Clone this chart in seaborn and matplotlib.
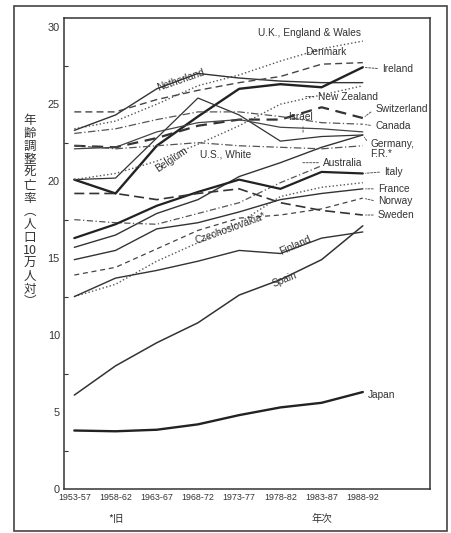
import numpy as np
import pandas as pd
import matplotlib
matplotlib.use("Agg")
import matplotlib.pyplot as plt
from matplotlib.patches import Rectangle
import seaborn as sns

periods = ["1953-57", "1958-62", "1963-67", "1968-72", "1973-77", "1978-82", "1983-87", "1988-92"]

uk          = [23.4, 23.9, 25.0, 26.2, 26.9, 27.8, 28.6, 29.1]
netherland  = [23.3, 24.3, 26.0, 27.0, 26.7, 26.5, 26.4, 26.4]
denmark     = [24.5, 24.5, 25.3, 25.9, 26.4, 26.8, 27.6, 27.7]
ireland     = [20.1, 19.2, 22.3, 24.2, 26.0, 26.3, 26.1, 27.4]
belgium     = [20.1, 20.2, 22.8, 25.4, 24.3, 22.6, 22.9, 23.0]
new_zealand = [20.1, 20.5, 21.3, 22.4, 23.6, 25.0, 25.6, 26.2]
switzerland = [22.3, 22.2, 22.8, 23.6, 24.0, 24.0, 24.8, 24.1]
israel      = [22.1, 22.2, 23.2, 23.8, 24.0, 23.5, 23.4, 23.2]
canada      = [23.1, 23.4, 24.0, 24.5, 24.5, 24.2, 23.8, 23.7]
germany     = [15.7, 16.5, 17.9, 18.8, 20.3, 21.2, 22.2, 23.0]
us_white    = [22.3, 22.1, 22.3, 22.5, 22.3, 22.2, 22.1, 22.3]
australia   = [17.5, 17.3, 17.2, 17.9, 18.6, 19.9, 21.0, np.nan]
italy       = [16.3, 17.2, 18.4, 19.3, 20.1, 19.5, 20.6, 20.5]
france      = [14.9, 15.5, 16.9, 17.3, 18.0, 18.8, 19.2, 19.5]
norway      = [13.9, 14.4, 15.6, 16.8, 17.6, 17.8, 18.2, 18.9]
sweden      = [19.2, 19.2, 18.8, 19.2, 19.5, 18.6, 18.1, 17.8]
czech       = [12.5, 13.3, 14.8, 16.0, 17.3, 19.0, 19.6, 19.9]
finland     = [12.5, 13.7, 14.2, 14.8, 15.5, 15.3, 16.3, 16.7]
spain       = [6.1, 8.0, 9.5, 10.8, 12.6, 13.6, 14.9, 17.1]
japan       = [3.8, 3.75, 3.85, 4.2, 4.8, 5.3, 5.6, 6.3]

series = [
    ("U.K.", uk, ":", 1.0, "#555555"),
    ("Netherland", netherland, "-", 1.0, "#333333"),
    ("Denmark", denmark, (0, (5, 3)), 1.0, "#444444"),
    ("Ireland", ireland, "-", 1.7, "#222222"),
    ("Belgium", belgium, "-", 0.9, "#333333"),
    ("New Zealand", new_zealand, ":", 1.0, "#555555"),
    ("Switzerland", switzerland, (0, (5, 3)), 1.6, "#333333"),
    ("Israel", israel, "-", 0.9, "#444444"),
    ("Canada", canada, (0, (6, 2, 1, 2)), 0.9, "#555555"),
    ("Germany", germany, "-", 1.0, "#333333"),
    ("U.S. White", us_white, (0, (6, 2, 1, 2)), 0.9, "#555555"),
    ("Australia", australia, (0, (5, 2, 1, 2)), 0.9, "#555555"),
    ("Italy", italy, "-", 1.6, "#222222"),
    ("France", france, "-", 1.0, "#333333"),
    ("Norway", norway, (0, (4, 3)), 0.9, "#444444"),
    ("Sweden", sweden, (0, (6, 3)), 1.2, "#333333"),
    ("Czechoslovakia", czech, ":", 1.0, "#555555"),
    ("Finland", finland, "-", 1.0, "#333333"),
    ("Spain", spain, "-", 1.1, "#333333"),
    ("Japan", japan, "-", 1.7, "#222222"),
]

sns.set_theme(style="white")
plt.rcParams["font.family"] = ["Liberation Sans", "Noto Sans CJK JP", "DejaVu Sans"]

fig = plt.figure(figsize=(4.51, 5.33), dpi=100)
ax = fig.add_axes([64 / 451, 1 - 489 / 533, (430 - 64) / 451, (489 - 18) / 533])

xs = np.arange(len(periods))
for name, vals, ls, lw, col in series:
    df = pd.DataFrame({"x": xs, "y": vals}).dropna()
    sns.lineplot(data=df, x="x", y="y", ax=ax, color=col, linestyle=ls,
                 linewidth=lw, errorbar=None, estimator=None)

ax.set_xlim(-0.25, 8.63)
ax.set_ylim(0, 30.6)
ax.set_xticks(xs)
ax.set_xticklabels(periods, fontsize=6.4, color="#333333")
ax.set_yticks([0, 5, 10, 15, 20, 25, 30])
ax.set_yticks(np.arange(2.5, 30, 5), minor=True)
ax.tick_params(axis="both", which="both", direction="in", color="#333333")
ax.tick_params(axis="both", which="major", length=4, width=0.9, pad=3)
ax.tick_params(axis="y", which="minor", length=3, width=0.8, left=True)
ax.tick_params(axis="y", labelsize=7.8, labelcolor="#333333")
ax.set_xlabel("")
ax.set_ylabel("")
for sp in ax.spines.values():
    sp.set_color("#333333")
    sp.set_linewidth(1.1)

tc = "#333333"
fs = 7.3
def lab(txt, x, y, ha="left", rot=0, **kw):
    ax.text(x, y, txt, ha=ha, va="center", fontsize=fs, color=tc, rotation=rot,
            rotation_mode="anchor", **kw)

lab("U.K., England & Wales", 4.46, 29.6)
lab("Netherland", 2.57, 26.6, ha="center", rot=19)
lab("Denmark", 6.09, 28.4, ha="center")
lab("Ireland", 7.47, 27.3)
lab("New Zealand", 5.92, 25.5)
lab("Switzerland", 7.3, 24.7)
lab("Israel", 5.48, 24.2, ha="center")
lab("Canada", 7.3, 23.6)
lab("Germany,\nF.R.*", 7.18, 22.1, linespacing=0.95)
lab("U.S., White", 3.05, 21.7)
lab("Belgium", 2.37, 21.4, ha="center", rot=34)
lab("Australia", 6.04, 21.2)
lab("Italy", 7.52, 20.6)
lab("France", 7.37, 19.5)
lab("Norway", 7.37, 18.7)
lab("Sweden", 7.37, 17.8)
lab("Czechoslovakia*", 3.78, 16.9, ha="center", rot=20)
lab("Finland", 5.36, 15.8, ha="center", rot=24)
lab("Spain", 5.1, 13.6, ha="center", rot=22)
lab("Japan", 7.13, 6.1)

# leader lines from line ends to labels
leaders = [(7.0, 27.4, 7.42, 27.3), (7.0, 24.1, 7.25, 24.6), (7.0, 23.7, 7.25, 23.6),
           (7.0, 23.0, 7.13, 22.5), (7.0, 20.5, 7.47, 20.6), (7.0, 19.5, 7.32, 19.5),
           (7.0, 18.9, 7.32, 18.7), (7.0, 17.8, 7.32, 17.8), (5.55, 25.5, 5.88, 25.5),
           (5.45, 21.2, 5.99, 21.2), (5.55, 23.8, 5.55, 23.0)]
for x0, y0, x1, y1 in leaders:
    ax.annotate("", xy=(x0, y0), xytext=(x1, y1),
                arrowprops=dict(arrowstyle="-", color="#555555", lw=0.7, linestyle=(0, (2, 1.5))))

# vertical Japanese y-axis title
ylab = "\n".join(["年", "齢", "調", "整", "死", "亡", "率", "︵", "人", "口", "10", "万", "人", "対", "︶"])
fig.text(30 / 451, 1 - 211 / 533, ylab, ha="center", va="center", fontsize=9,
         color="#333333", linespacing=1.0, family=["Noto Sans CJK JP", "DejaVu Sans"])

fig.text(116 / 451, 1 - 519 / 533, "*旧", ha="center", va="center", fontsize=7.5,
         color="#333333", family=["Noto Sans CJK JP", "DejaVu Sans"])
fig.text(322 / 451, 1 - 519 / 533, "年次", ha="center", va="center", fontsize=7.5,
         color="#333333", family=["Noto Sans CJK JP", "DejaVu Sans"])

# outer frame
fig.patches.append(Rectangle((14 / 451, 1 - 531 / 533), (447 - 14) / 451, (531 - 6) / 533,
                             transform=fig.transFigure, fill=False, edgecolor="#444444",
                             linewidth=1.2))

fig.savefig("out.png", dpi=100)
